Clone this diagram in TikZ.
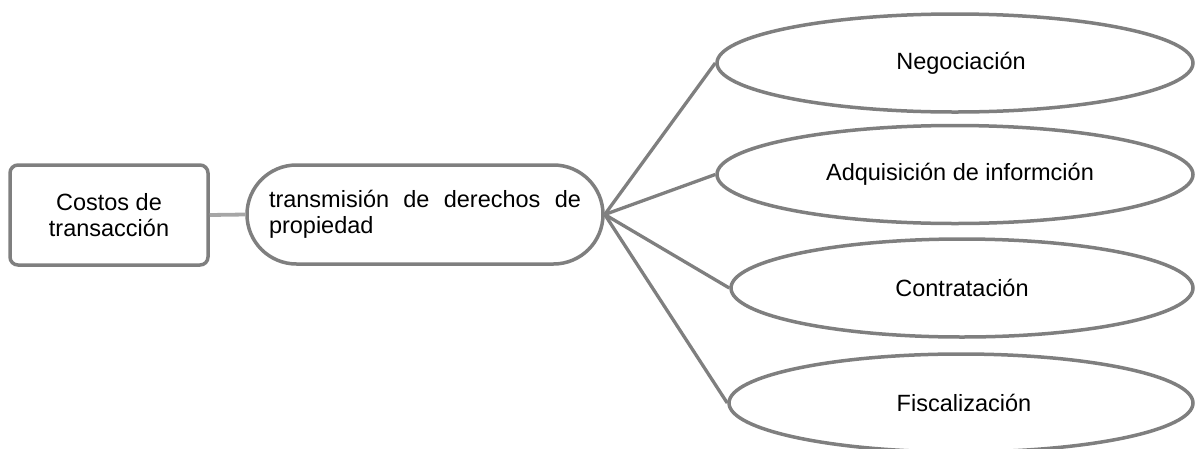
\documentclass[tikz,border=0pt]{standalone}
\usepackage{fontspec}
\setmainfont{Liberation Sans}
\usetikzlibrary{shapes.geometric}
\definecolor{edgegray}{HTML}{7F7F7F}
\definecolor{lightgray}{HTML}{A6A6A6}
\begin{document}
\begin{tikzpicture}[x=1pt,y=-1pt,
  every node/.style={font=\fontsize{23.5}{26}\selectfont, text=black},
  boxnode/.style={draw=edgegray, line width=3.5pt, rounded corners=8pt, minimum width=198pt, minimum height=100pt, inner sep=0pt, align=center},
  pillnode/.style={draw=edgegray, line width=3.5pt, rounded corners=49.5pt, minimum width=356pt, minimum height=99pt, inner sep=0pt, text width=312pt, align=justify},
  ovalnode/.style={draw=edgegray, line width=3.5pt, ellipse, inner sep=0pt, minimum height=98pt},
  link/.style={draw=edgegray, line width=3.3pt},
  softlink/.style={draw=lightgray, line width=3.8pt}
]
\useasboundingbox (0,0) rectangle (1195,448);
\node[boxnode] (costos) at (109,215) {Costos de\\transacción};
\node[pillnode] (trans) at (425,214.5) {transmisión de derechos de\linebreak propiedad};
\node[ovalnode, minimum width=476pt] (neg) at (955,63) {\hspace*{12pt}Negociación};
\node[ovalnode, minimum width=476pt] (adq) at (955,174.5) {\hspace*{10pt}Adquisición de informción};
\node[ovalnode, minimum width=462pt] (con) at (962,288) {Contratación};
\node[ovalnode, minimum width=464pt] (fis) at (961,403) {\hspace*{6pt}Fiscalización};
\draw[softlink] (costos.east) -- (trans.west);
\draw[link] (trans.east) -- (neg.west);
\draw[link] (trans.east) -- (adq.west);
\draw[link] (trans.east) -- (con.west);
\draw[link] (trans.east) -- (fis.west);
\end{tikzpicture}
\end{document}
